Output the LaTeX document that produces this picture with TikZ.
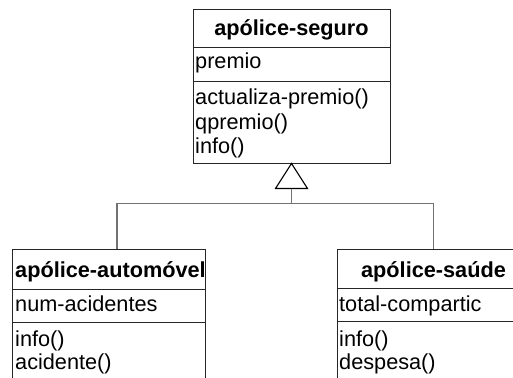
\documentclass[tikz,border=0pt]{standalone}
\usepackage{fontspec}
\setmainfont{Liberation Sans}
\usetikzlibrary{positioning}
\tikzset{font=\fontsize{21.7}{24}\selectfont}
\tikzstyle{classbox}=[draw=black!85,line width=1pt,inner sep=0pt,minimum width=193pt,minimum height=151pt]
\tikzstyle{cname}=[inner sep=0pt,font=\fontsize{21.7}{24}\selectfont\bfseries]
\tikzstyle{member}=[inner sep=0pt,anchor=base west]
\tikzstyle{sep}=[draw=black!85,line width=1pt]
\tikzstyle{gen}=[draw=black!55,line width=1.2pt]

\begin{document}
\begin{tikzpicture}[x=1pt,y=-1pt]
\clip (0,0) rectangle (513,377);
% superclass
\node[classbox,minimum width=197pt,minimum height=153pt] (seguro) at (291.5,86.5) {};
\node[cname,anchor=base] (seguroname) at (291.5,36) {apólice-seguro};
\node[member] (premio) at (195,69) {premio};
\node[member] (actualiza) at (195,105) {actualiza-premio()};
\node[member] (qpremio) at (195,129) {qpremio()};
\node[member] (seguroinfo) at (195,153) {info()};
\draw[sep] (seguro.west |- 0,48) -- (seguro.east |- 0,48);
\draw[sep] (seguro.west |- 0,82) -- (seguro.east |- 0,82);
% subclasses
\node[classbox] (automovel) at (109,324.5) {};
\node[cname,anchor=base west] (automovelname) at (15,277) {apólice-automóvel};
\node[member] (acidentes) at (15,311) {num-acidentes};
\node[member] (automovelinfo) at (15,346) {info()};
\node[member] (acidente) at (15,369) {acidente()};
\draw[sep] (automovel.west |- 0,289) -- (automovel.east |- 0,289);
\draw[sep] (automovel.west |- 0,322) -- (automovel.east |- 0,322);

\node[classbox] (saude) at (433.5,324.5) {};
\node[cname,anchor=base] (saudename) at (433.5,277) {apólice-saúde};
\node[member] (compartic) at (339,311) {total-compartic};
\node[member] (saudeinfo) at (339,346) {info()};
\node[member] (despesa) at (339,369) {despesa()};
\draw[sep] (saude.west |- 0,288) -- (saude.east |- 0,288);
\draw[sep] (saude.west |- 0,321) -- (saude.east |- 0,321);
% generalization
\draw[line width=1.1pt,fill=white] (seguro.south) -- ++(-16,25) -- ++(32,0) -- cycle;
\coordinate (tip) at ([yshift=-25pt]seguro.south);
\draw[gen] (tip) -- ++(0,15) -| ([xshift=8pt]automovel.north);
\draw[gen] (tip) -- ++(0,15) -| (saude.north);
\end{tikzpicture}
\end{document}
